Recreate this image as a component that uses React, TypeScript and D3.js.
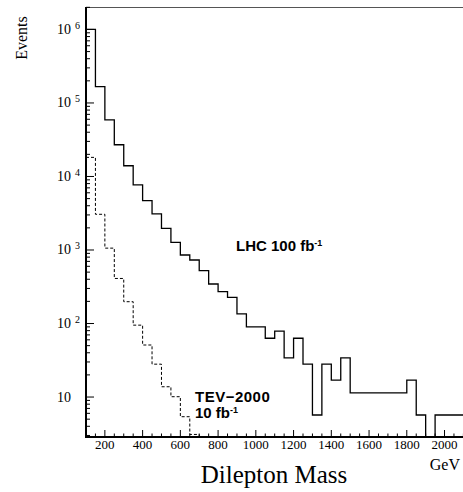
import React from 'react';
import * as d3 from 'd3';

// bin edges run from 100 GeV in 50 GeV steps
const binStart = 100;
const binWidth = 50;

// LHC 100 fb-1, events per bin
const lhcCounts = [
  1.0e6, 1.67e5, 5.9e4, 2.7e4, 1.4e4, 7.7e3, 4.7e3, 3.1e3, 1.97e3, 1.27e3,
  855, 731, 524, 345, 271, 227, 135, 90, 90, 63,
  79, 34, 63, 28, 5.7, 28, 17, 34, 11.4, 11.4,
  11.4, 11.4, 11.4, 11.4, 17, 5.7, 0, 5.7, 5.7, 5.7
];

// TEV-2000 10 fb-1, events per bin
const tevCounts = [1.82e4, 3.06e3, 1.06e3, 410, 198, 95, 51, 28, 13.8, 10.1, 5.4, 3.1];

const xTicks = [200, 400, 600, 800, 1000, 1200, 1400, 1600, 1800, 2000];
const yDecades = [1, 2, 3, 4, 5, 6];

const W = 463;
const H = 492;
const left = 86;
const right = 463.4;
const top = 7;
const bottom = 437;

const App = () => {
  const x = d3.scaleLinear().domain([100, 2100]).range([left, right]);
  const y = d3.scaleLog().domain([2.86, 2.02e6]).range([bottom, top]);
  const yMin = y.domain()[0];

  const stepPath = (counts: number[]) => {
    const pts: [number, number][] = counts.map((c, i) => [binStart + i * binWidth, c]);
    pts.push([binStart + counts.length * binWidth, counts[counts.length - 1]]);
    const gen = d3
      .line<[number, number]>()
      .x(d => x(d[0]))
      .y(d => y(Math.max(d[1], yMin)))
      .curve(d3.curveStepAfter);
    return gen(pts) || '';
  };

  // tev ends: drop to the axis after the last bin
  const tevEnd = binStart + tevCounts.length * binWidth;
  const tevPath = stepPath(tevCounts) + `L${x(tevEnd)},${bottom}`;

  // minor ticks on log axis
  const yMinor: number[] = [];
  for (let e = 0; e <= 6; e++) {
    for (let m = 2; m <= 9; m++) {
      const v = m * Math.pow(10, e);
      if (v >= yMin && v <= 2.02e6) yMinor.push(v);
    }
  }
  const xMinor = d3.range(100, 2101, 50);

  const serif = '"Liberation Serif", "Times New Roman", serif';
  const sans = '"Liberation Sans", Arial, Helvetica, sans-serif';

  return (
    <svg
      width={W}
      height={H}
      style={{ position: 'absolute', left: 0, top: 0, background: '#fff' }}
    >
      {/* frame top */}
      <line x1={left} x2={W} y1={top + 0.5} y2={top + 0.5} stroke="#555" strokeWidth={1} />

      {/* histograms */}
      <path d={stepPath(lhcCounts)} fill="none" stroke="#000" strokeWidth={1.3} />
      <path d={tevPath} fill="none" stroke="#000" strokeWidth={1} strokeDasharray="3,2" />

      {/* y axis */}
      <line x1={left} x2={left} y1={top} y2={bottom} stroke="#000" strokeWidth={2} />
      {yMinor.map(v => (
        <line key={'ym' + v} x1={left} x2={left + 4} y1={y(v)} y2={y(v)} stroke="#000" strokeWidth={1} />
      ))}
      {yDecades.map(e => (
        <g key={'yd' + e}>
          <line x1={left} x2={left + 8} y1={y(Math.pow(10, e))} y2={y(Math.pow(10, e))} stroke="#000" strokeWidth={1} />
          <text
            x={71}
            y={y(Math.pow(10, e)) + 4.5}
            textAnchor="end"
            fontFamily={serif}
            fontSize={14}
          >
            10
          </text>
          {e > 1 && (
            <text x={75} y={y(Math.pow(10, e)) - 0.5} fontFamily={serif} fontSize={10}>
              {e}
            </text>
          )}
        </g>
      ))}

      {/* x axis */}
      <line x1={left - 1} x2={W} y1={bottom} y2={bottom} stroke="#000" strokeWidth={2} />
      {xMinor.map(v => (
        <line key={'xm' + v} x1={x(v)} x2={x(v)} y1={bottom} y2={bottom - (v % 200 === 0 ? 7 : 3.5)} stroke="#000" strokeWidth={1} />
      ))}
      {xTicks.map(v => (
        <text key={'xl' + v} x={x(v)} y={449} textAnchor="middle" fontFamily={serif} fontSize={13}>
          {v}
        </text>
      ))}

      {/* axis titles */}
      <text x={460} y={470} textAnchor="end" fontFamily={serif} fontSize={16}>
        GeV
      </text>
      <text x={274} y={483} textAnchor="middle" fontFamily={serif} fontSize={25}>
        Dilepton Mass
      </text>
      <text
        transform="translate(27,38) rotate(-90)"
        textAnchor="middle"
        fontFamily={serif}
        fontSize={16}
      >
        Events
      </text>

      {/* labels */}
      <text x={236} y={250.5} fontFamily={sans} fontWeight="bold" fontSize={15}>
        LHC 100 fb<tspan fontSize={9} dy={-5}>-1</tspan>
      </text>
      <text x={195} y={401.5} fontFamily={sans} fontWeight="bold" fontSize={15} letterSpacing={0.5}>
        TEV−2000
      </text>
      <text x={195} y={417.5} fontFamily={sans} fontWeight="bold" fontSize={15}>
        10 fb<tspan fontSize={9} dy={-5}>-1</tspan>
      </text>
    </svg>
  );
};

export default App;
